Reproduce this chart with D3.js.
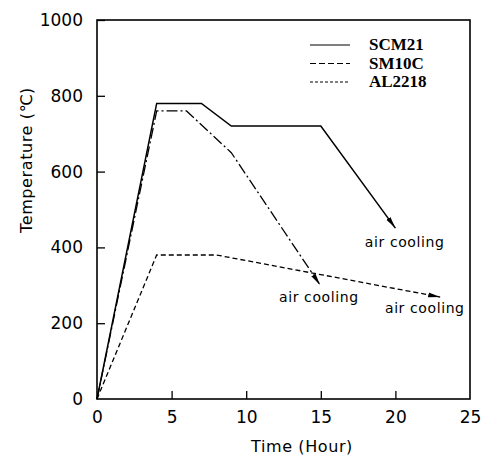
<!DOCTYPE html>
<html>
<meta charset="utf-8">
<style>
  body { margin: 0; padding: 0; background: #fff; }
  text { font-family: "DejaVu Sans", sans-serif; fill: #000; }
  .tick text { font-size: 17px; }
  .legend text { font-family: "Liberation Serif", serif; font-weight: bold; font-size: 17px; }
  .note { font-size: 14px; letter-spacing: 0.6px; }
  .axis-title { font-size: 16px; letter-spacing: 0.6px; }
</style>
<body>
<div id="chart"></div>
<script src="https://d3js.org/d3.v7.min.js"></script>
<script>

// data (time in hours, temperature in C)
var scm21 = [[0, 0], [4, 780], [7, 780], [9, 720], [15, 720], [20, 451]];
var sm10c = [[0, 0], [4, 760], [6, 760], [9, 650], [14.95, 301]];
var al2218 = [[0, 0], [4, 380], [8, 380], [23, 269]];

var seriesNames = ["SCM21", "SM10C", "AL2218"];
var xTicks = [0, 5, 10, 15, 20, 25];
var yTicks = [0, 200, 400, 600, 800, 1000];

// "air cooling" labels, in data coordinates
var notes = [[17.95, 401], [12.2, 256], [19.3, 227]];

var W = 489, H = 461;
var margin = {top: 20, right: 19, bottom: 62, left: 97},
    width = W - margin.left - margin.right,
    height = H - margin.top - margin.bottom;

var svg = d3.select("#chart").append("svg")
    .attr("width", W)
    .attr("height", H);

var g = svg.append("g")
    .attr("transform", "translate(" + margin.left + "," + margin.top + ")");

var x = d3.scaleLinear().domain([0, 25]).range([0, width]);
var y = d3.scaleLinear().domain([0, 1000]).range([height, 0]);

// arrow head
svg.append("defs").append("marker")
    .attr("id", "arrow")
    .attr("viewBox", "0 0 12 6")
    .attr("refX", 12).attr("refY", 3)
    .attr("markerWidth", 12).attr("markerHeight", 6)
    .attr("markerUnits", "userSpaceOnUse")
    .attr("orient", "auto")
  .append("path")
    .attr("d", "M0,0.5 L12,3 L0,5.5 Z")
    .attr("fill", "#000");

// axes, ticks point inward
var xAxis = g.append("g")
    .attr("transform", "translate(0," + height + ")")
    .call(d3.axisBottom(x).tickValues(xTicks).tickSize(-8).tickPadding(12)
      .tickSizeOuter(0).tickFormat(d3.format("d")));
var yAxis = g.append("g")
    .call(d3.axisLeft(y).tickValues(yTicks).tickSize(-8).tickPadding(14)
      .tickSizeOuter(0).tickFormat(d3.format("d")));
[xAxis, yAxis].forEach(function(a) {
  a.select(".domain").remove();
  a.selectAll(".tick line").attr("stroke", "#000").attr("stroke-width", 1.3);
});
xAxis.selectAll(".tick line").filter(function(d) { return d == 0 || d == 25; }).remove();
yAxis.selectAll(".tick line").filter(function(d) { return d == 0; }).remove();

// frame
g.append("rect")
    .attr("width", width).attr("height", height)
    .attr("fill", "none").attr("stroke", "#000").attr("stroke-width", 1.6);

var line = d3.line()
    .x(function(d) { return x(d[0]); })
    .y(function(d) { return y(d[1]); });

var styles = [
  {data: scm21, dash: null, w: 1.5},
  {data: sm10c, dash: "11,3,2,3", w: 1.3},
  {data: al2218, dash: "5,3", w: 1.3}
];

styles.forEach(function(s) {
  g.append("path")
      .datum(s.data)
      .attr("d", line)
      .attr("fill", "none")
      .attr("stroke", "#000")
      .attr("stroke-width", s.w)
      .attr("stroke-dasharray", s.dash)
      .attr("marker-end", "url(#arrow)");
});

// notes
g.selectAll(".note")
    .data(notes)
  .enter().append("text")
    .attr("class", "note")
    .attr("x", function(d) { return x(d[0]); })
    .attr("y", function(d) { return y(d[1]); })
    .text("air cooling");

// legend
var legend = svg.append("g").attr("class", "legend");
styles.forEach(function(s, i) {
  var ly = 45 + i * 18.5;
  legend.append("line")
      .attr("x1", 310).attr("x2", 350)
      .attr("y1", ly).attr("y2", ly)
      .attr("stroke", "#000")
      .attr("stroke-width", 1.2)
      .attr("stroke-dasharray", i == 0 ? null : (i == 1 ? "6,3" : "3,2"));
  legend.append("text")
      .attr("x", 369).attr("y", ly + 5)
      .text(seriesNames[i]);
});

// axis titles
svg.append("text")
    .attr("class", "axis-title")
    .attr("x", 302).attr("y", 452)
    .attr("text-anchor", "middle")
    .text("Time  (Hour)");

svg.append("text")
    .attr("class", "axis-title")
    .attr("transform", "translate(32,160) rotate(-90)")
    .attr("text-anchor", "middle")
    .text("Temperature  (℃)");

</script>
</body>
</html>
